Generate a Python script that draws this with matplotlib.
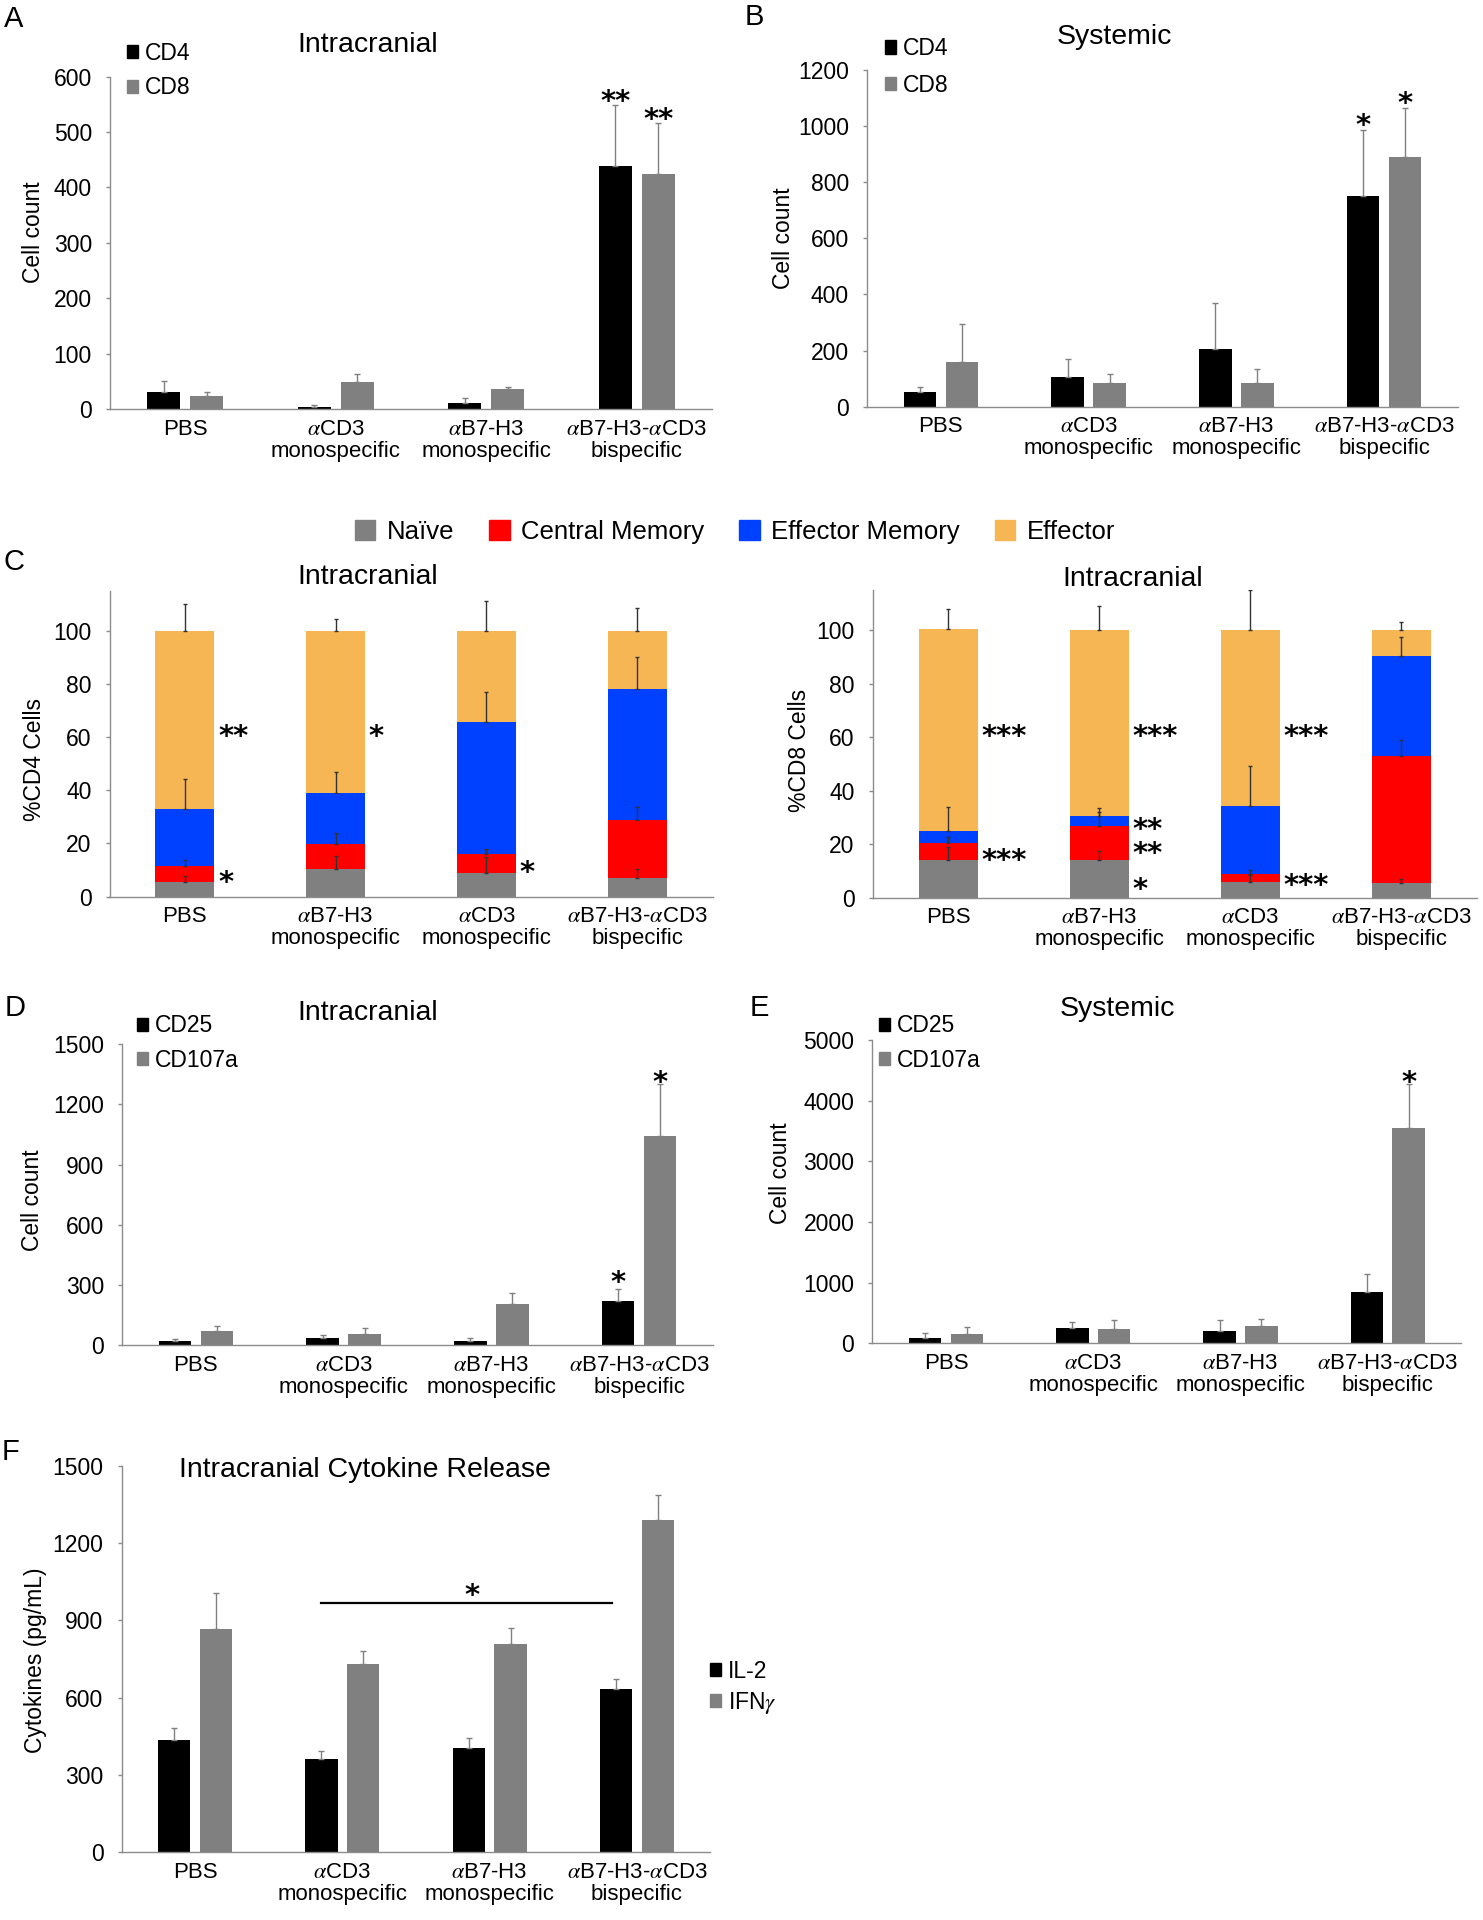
import numpy as np
import matplotlib
matplotlib.use("Agg")
import matplotlib.pyplot as plt
from matplotlib.patches import Patch
from matplotlib.transforms import ScaledTranslation

plt.rcParams["font.family"] = ["Liberation Sans", "DejaVu Sans"]
plt.rcParams["mathtext.fontset"] = "stix"

# ---- data ----
groups = ["PBS",
          "$\\alpha$CD3\nmonospecific",
          "$\\alpha$B7-H3\nmonospecific",
          "$\\alpha$B7-H3-$\\alpha$CD3\nbispecific"]
groups_c = ["PBS",
            "$\\alpha$B7-H3\nmonospecific",
            "$\\alpha$CD3\nmonospecific",
            "$\\alpha$B7-H3-$\\alpha$CD3\nbispecific"]

# A: intracranial CD4 / CD8
a_cd4 = [31, 4, 10, 439]
a_cd4_err = [20, 3, 9, 110]
a_cd8 = [23, 49, 37, 424]
a_cd8_err = [8, 14, 3, 92]

# B: systemic CD4 / CD8
b_cd4 = [54, 107, 207, 751]
b_cd4_err = [17, 63, 164, 235]
b_cd8 = [160, 83, 86, 890]
b_cd8_err = [134, 34, 48, 174]

# C: memory subsets (%), order of groups_c
subsets = ["Naïve", "Central Memory", "Effector Memory", "Effector"]
cd4_naive = [5.4, 10.4, 8.8, 7.2]
cd4_naive_err = [2.4, 4.9, 6.2, 3.1]
cd4_cm = [6.1, 9.3, 7.1, 21.6]
cd4_cm_err = [2.2, 4.1, 2.0, 5.0]
cd4_em = [21.6, 19.2, 49.8, 49.3]
cd4_em_err = [11.0, 8.1, 11.3, 12.1]
cd4_eff = [66.9, 61.1, 34.3, 21.9]
cd4_eff_err = [10.0, 4.5, 11.0, 8.6]

cd8_naive = [14.1, 14.1, 6.0, 5.6]
cd8_naive_err = [4.9, 3.5, 2.5, 1.3]
cd8_cm = [6.2, 12.7, 2.9, 47.4]
cd8_cm_err = [2.3, 5.3, 1.4, 5.9]
cd8_em = [4.6, 3.7, 25.4, 37.4]
cd8_em_err = [9.1, 2.9, 15.0, 6.9]
cd8_eff = [75.7, 69.5, 65.7, 9.6]
cd8_eff_err = [7.4, 9.2, 15.0, 3.0]

# D: intracranial CD25 / CD107a
d_cd25 = [22, 37, 22, 221]
d_cd25_err = [6, 13, 15, 60]
d_cd107 = [70, 55, 203, 1043]
d_cd107_err = [26, 31, 58, 257]

# E: systemic CD25 / CD107a
e_cd25 = [93, 258, 208, 851]
e_cd25_err = [72, 99, 176, 286]
e_cd107 = [148, 242, 285, 3554]
e_cd107_err = [126, 142, 111, 715]

# F: cytokines
f_il2 = [436, 362, 405, 635]
f_il2_err = [45, 31, 37, 37]
f_ifng = [865, 731, 808, 1291]
f_ifng_err = [142, 51, 63, 94]

# significance stars: (group, series 0/1, y)
a_stars = [(3, 0, 570, "**"), (3, 1, 536, "**")]
b_stars = [(3, 0, 1029, "*"), (3, 1, 1110, "*")]
d_stars = [(3, 0, 349, "*"), (3, 1, 1347, "*")]
e_stars = [(3, 1, 4422, "*")]
c4_stars = [(0, 63, "**"), (0, 8.4, "*"), (1, 63, "*"), (2, 12, "*")]
c8_stars = [(0, 63, "***"), (0, 16.8, "***"), (1, 63, "***"), (1, 28.4, "**"),
            (1, 19.3, "**"), (1, 6, "*"), (2, 63, "***"), (2, 7.5, "***")]

W, H = 1483, 1920
BLACK = "#000000"
GRAY = "#808080"
AXIS = "#8c8c8c"
SUBSET_COLORS = ["#808080", "#ff0000", "#0040ff", "#f6b653"]
BW = 0.22
OFF = 0.142
STAR_SIZE = 21


def fx(px):
    return px / W


def fy(py):
    return 1 - py / H


def box(l, r, b, t):
    return [fx(l), fy(b), (r - l) / W, (b - t) / H]


fig = plt.figure(figsize=(W / 100, H / 100), dpi=100)
x = np.arange(4)
zero = np.zeros(4)


def star_tr(ax):
    return ax.transData + ScaledTranslation(0, -6 / 72, fig.dpi_scale_trans)


def style(ax, ymax, yticks, labels, ylabel, lab_xy):
    ax.set_xlim(-0.5, 3.5)
    ax.set_ylim(0, ymax)
    ax.set_yticks(yticks)
    ax.set_xticks(x, labels, linespacing=1.05)
    for s in ["top", "right"]:
        ax.spines[s].set_visible(False)
    for s in ["left", "bottom"]:
        ax.spines[s].set_color(AXIS)
        ax.spines[s].set_linewidth(1)
    ax.tick_params(axis="y", direction="out", length=3, width=1, color=AXIS,
                   labelsize=16.5, pad=10)
    ax.tick_params(axis="x", length=0, labelsize=16, pad=7)
    ax.set_ylabel(ylabel, fontsize=16.5)
    ax.yaxis.set_label_coords(fx(lab_xy[0]), fy(lab_xy[1]), transform=fig.transFigure)


def grouped(ax, s1, e1, s2, e2, names, stars, leg_xy, spacing=0.5):
    ax.bar(x - OFF, s1, BW, color=BLACK)
    ax.bar(x + OFF, s2, BW, color=GRAY)
    ax.errorbar(x - OFF, s1, yerr=[zero, e1], fmt="none", ecolor=GRAY,
                elinewidth=1, capsize=2, capthick=1)
    ax.errorbar(x + OFF, s2, yerr=[zero, e2], fmt="none", ecolor=GRAY,
                elinewidth=1, capsize=2, capthick=1)
    for g, k, yv, s in stars:
        ax.text(g + (OFF if k else -OFF), yv, s, ha="center", va="center",
                fontsize=STAR_SIZE, fontweight="bold", family="DejaVu Sans",
                transform=star_tr(ax))
    ax.legend(handles=[Patch(color=BLACK, label=names[0]),
                       Patch(color=GRAY, label=names[1])],
              loc="center left", bbox_to_anchor=(fx(leg_xy[0]), fy(leg_xy[1])),
              bbox_transform=fig.transFigure, frameon=False, fontsize=16.5,
              handlelength=0.5, handleheight=0.5, handletextpad=0.3,
              labelspacing=spacing, borderpad=0, borderaxespad=0)


def stacked(ax, segs, errs, stars):
    bottom = np.zeros(4)
    tops = []
    for vals, col in zip(segs, SUBSET_COLORS):
        ax.bar(x, vals, 0.39, bottom=bottom, color=col)
        bottom = bottom + np.array(vals)
        tops.append(bottom.copy())
    for top, err in zip(tops, errs):
        ax.errorbar(x, top, yerr=[zero, err], fmt="none", ecolor="#333333",
                    elinewidth=1, capsize=1.5, capthick=1, zorder=3)
    for g, yv, s in stars:
        ax.text(g + 0.22, yv, s, ha="left", va="center", fontsize=STAR_SIZE,
                fontweight="bold", family="DejaVu Sans", transform=star_tr(ax))


# ---- A ----
ax = fig.add_axes(box(110, 712, 409, 76.7))
grouped(ax, a_cd4, a_cd4_err, a_cd8, a_cd8_err, ["CD4", "CD8"], a_stars, (127, 70.5))
style(ax, 600, np.arange(0, 601, 100), groups, "Cell count", (45, 232))

# ---- B ----
ax = fig.add_axes(box(867, 1458, 406.7, 70))
grouped(ax, b_cd4, b_cd4_err, b_cd8, b_cd8_err, ["CD4", "CD8"], b_stars, (885, 67),
        spacing=0.6)
style(ax, 1200, np.arange(0, 1201, 200), groups, "Cell count", (795, 238))

# ---- C ----
ax = fig.add_axes(box(109.5, 712.6, 896.7, 590.7))
stacked(ax, [cd4_naive, cd4_cm, cd4_em, cd4_eff],
        [cd4_naive_err, cd4_cm_err, cd4_em_err, cd4_eff_err], c4_stars)
style(ax, 115, np.arange(0, 101, 20), groups_c, "%CD4 Cells", (46, 760))

ax = fig.add_axes(box(872.7, 1477, 897.7, 590))
stacked(ax, [cd8_naive, cd8_cm, cd8_em, cd8_eff],
        [cd8_naive_err, cd8_cm_err, cd8_em_err, cd8_eff_err], c8_stars)
style(ax, 115, np.arange(0, 101, 20), groups_c, "%CD8 Cells", (811, 750))

fig.legend(handles=[Patch(color=c, label=n) for c, n in zip(SUBSET_COLORS, subsets)],
           loc="center", bbox_to_anchor=(fx(735), fy(532)), ncol=4, frameon=False,
           fontsize=18.5, handlelength=0.8, handleheight=0.8, handletextpad=0.45,
           columnspacing=1.35, borderpad=0)

# ---- D ----
ax = fig.add_axes(box(122, 713, 1345, 1044.3))
grouped(ax, d_cd25, d_cd25_err, d_cd107, d_cd107_err, ["CD25", "CD107a"], d_stars, (137, 1043))
style(ax, 1500, np.arange(0, 1501, 300), groups, "Cell count", (44, 1200))

# ---- E ----
ax = fig.add_axes(box(872.4, 1461.4, 1343.3, 1040))
grouped(ax, e_cd25, e_cd25_err, e_cd107, e_cd107_err, ["CD25", "CD107a"], e_stars, (879, 1043))
style(ax, 5000, np.arange(0, 5001, 1000), groups, "Cell count", (792, 1173))

# ---- F ----
ax = fig.add_axes(box(121.6, 710.4, 1852.3, 1465.7))
grouped(ax, f_il2, f_il2_err, f_ifng, f_ifng_err, ["IL-2", "IFN$\\gamma$"], [], (710, 1688),
        spacing=0.3)
style(ax, 1500, np.arange(0, 1501, 300), groups, "Cytokines (pg/mL)", (47, 1660))
ax.plot([0.855, 2.83], [966, 966], color="black", lw=1.6)
ax.text(1.88, 1025, "*", ha="center", va="center", fontsize=STAR_SIZE, fontweight="bold",
        family="DejaVu Sans", transform=star_tr(ax))

# ---- titles and panel letters ----
titles = [("Intracranial", 368, 45), ("Systemic", 1114, 37),
          ("Intracranial", 368, 577), ("Intracranial", 1133, 579),
          ("Intracranial", 368, 1013), ("Systemic", 1117, 1009),
          ("Intracranial Cytokine Release", 365, 1470)]
for t, tx, ty in titles:
    fig.text(fx(tx), fy(ty), t, ha="center", va="center", fontsize=20.5)

letters = [("A", 14, 19), ("B", 754, 17), ("C", 14, 562),
           ("D", 15, 1008), ("E", 759, 1008), ("F", 11, 1452)]
for t, tx, ty in letters:
    fig.text(fx(tx), fy(ty), t, ha="center", va="center", fontsize=21)

fig.savefig("out.png", dpi=100)
